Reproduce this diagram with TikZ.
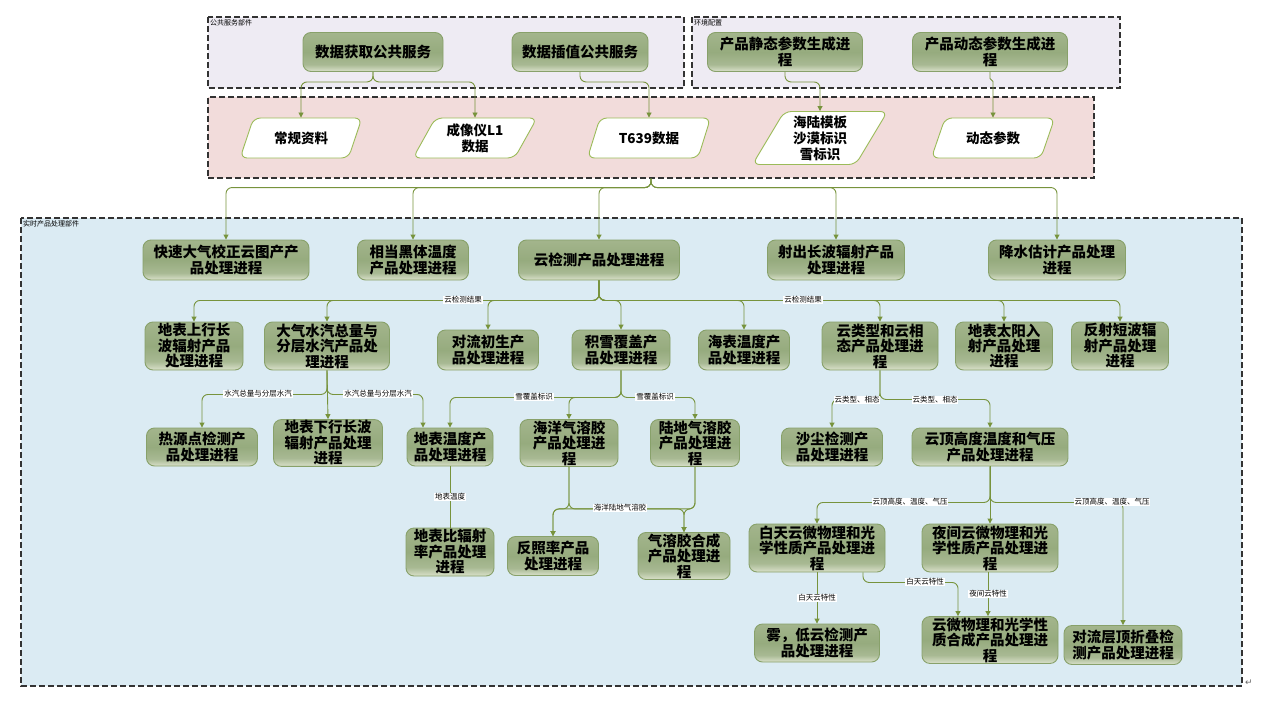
\documentclass[tikz,border=0pt]{standalone}
\usepackage{fontspec}
\setmainfont{Noto Sans CJK SC}
\newfontfamily\symfont{DejaVu Sans}
\usetikzlibrary{shapes.geometric,arrows.meta,backgrounds}
\definecolor{lav}{HTML}{EEEBF3}
\definecolor{pinkbg}{HTML}{F2DCDB}
\definecolor{bluebg}{HTML}{DBEBF3}
\definecolor{lnk}{HTML}{77933C}
\definecolor{nbord}{HTML}{88A16A}
\definecolor{ntop}{HTML}{A3B58C}
\definecolor{nmid}{HTML}{96AB7E}
\definecolor{nlow}{HTML}{A8B993}
\definecolor{nbot}{HTML}{DAE1CB}
\definecolor{pbord}{HTML}{9BBB59}
\pgfdeclareverticalshading{nodeshade}{100bp}{color(0bp)=(nbot); color(25bp)=(nbot); color(34bp)=(nlow); color(50bp)=(nmid); color(75bp)=(ntop); color(100bp)=(ntop)}
\tikzset{
  frame/.style={draw=black!80, dash pattern=on 6pt off 3pt, line width=1.1pt},
  framelab/.style={anchor=north west, inner sep=1pt, font=\fontsize{7}{8}\selectfont},
  proc/.style={draw=nbord, line width=0.9pt, rounded corners=8pt, shading=nodeshade, align=center, inner sep=1pt, font=\bfseries\fontsize{14.5}{15.5}\selectfont},
  para/.style={trapezium, trapezium left angle=62, trapezium right angle=118, trapezium stretches=true, draw=pbord, line width=0.9pt, fill=white, rounded corners=7pt, align=center, inner sep=1pt, font=\bfseries\fontsize{13.5}{16}\selectfont},
  conn/.style={draw=lnk, line width=0.9pt, rounded corners=6pt, -{Triangle[width=5pt,length=5pt]}},
  plain/.style={draw=lnk, line width=0.9pt, rounded corners=6pt},
  elab/.style={fill=white, inner sep=0.8pt, font=\fontsize{7.5}{8.5}\selectfont}
}
\begin{document}
\begin{tikzpicture}[x=1pt,y=-1pt]
\useasboundingbox (0,0) rectangle (1269,704);
% frames
\draw[frame, fill=lav] (208,17) rectangle (684,88);
\node[framelab] at (209,18) {公共服务部件};
\draw[frame, fill=lav] (692,17) rectangle (1120,88);
\node[framelab] at (693,18) {环境配置};
\node[frame, fill=pinkbg, minimum width=886pt, minimum height=81pt, inner sep=0pt] (pinkf) at (651,137.5) {};
\draw[frame, fill=bluebg] (21,218) rectangle (1242,686);
\node[framelab] at (22,219) {实时产品处理部件};
\node[inner sep=0pt, text=black!60, font=\symfont\fontsize{9}{9}\selectfont] (ret) at (1249,683) {↵};

% top nodes
\node[proc, minimum width=140pt, minimum height=39pt] (t1) at (373,52) {数据获取公共服务};
\node[proc, minimum width=136pt, minimum height=39pt] (t2) at (580,52) {数据插值公共服务};
\node[proc, minimum width=155pt, minimum height=39pt] (t3) at (785,52) {产品静态参数生成进\\程};
\node[proc, minimum width=155pt, minimum height=39pt] (t4) at (990,52) {产品动态参数生成进\\程};

% parallelograms
\node[para, minimum width=122pt, minimum height=40pt] (p1) at (301,138) {常规资料};
\node[para, minimum width=125pt, minimum height=40pt] (p2) at (475,138) {成像仪L1\\数据};
\node[para, minimum width=124pt, minimum height=40pt] (p3) at (649,138) {T639数据};
\node[para, minimum width=135pt, minimum height=53pt] (p4) at (820,138) {海陆模板\\沙漠标识\\雪标识};
\node[para, minimum width=124pt, minimum height=40pt] (p5) at (993,138) {动态参数};

% row 3
\node[proc, minimum width=166pt, minimum height=40pt] (r3a) at (226,260) {快速大气校正云图产产\\品处理进程};
\node[proc, minimum width=111pt, minimum height=40pt] (r3b) at (413,260) {相当黑体温度\\产品处理进程};
\node[proc, minimum width=161pt, minimum height=40pt] (r3c) at (599,260) {云检测产品处理进程};
\node[proc, minimum width=137pt, minimum height=40pt] (r3d) at (836,260) {射出长波辐射产品\\处理进程};
\node[proc, minimum width=137pt, minimum height=40pt] (r3e) at (1057,260) {降水估计产品处理\\进程};

% row 4
\node[proc, minimum width=98pt, minimum height=48pt] (r4a) at (194,346) {地表上行长\\波辐射产品\\处理进程};
\node[proc, minimum width=125pt, minimum height=48pt] (r4b) at (327,346) {大气水汽总量与\\分层水汽产品处\\理进程};
\node[proc, minimum width=101pt, minimum height=40pt] (r4c) at (488,350) {对流初生产\\品处理进程};
\node[proc, minimum width=98pt, minimum height=40pt] (r4d) at (621,350) {积雪覆盖产\\品处理进程};
\node[proc, minimum width=91pt, minimum height=40pt] (r4e) at (744,350) {海表温度产\\品处理进程};
\node[proc, minimum width=116pt, minimum height=48pt] (r4f) at (880,346) {云类型和云相\\态产品处理进\\程};
\node[proc, minimum width=97pt, minimum height=48pt] (r4g) at (1004,346) {地表太阳入\\射产品处理\\进程};
\node[proc, minimum width=97pt, minimum height=48pt] (r4h) at (1120,346) {反射短波辐\\射产品处理\\进程};

% row 5
\node[proc, minimum width=111pt, minimum height=38pt] (r5a) at (202,447) {热源点检测产\\品处理进程};
\node[proc, minimum width=109pt, minimum height=46pt] (r5b) at (328,443) {地表下行长波\\辐射产品处理\\进程};
\node[proc, minimum width=86pt, minimum height=38pt] (r5c) at (450,447) {地表温度产\\品处理进程};
\node[proc, minimum width=98pt, minimum height=46pt] (r5d) at (569,443) {海洋气溶胶\\产品处理进\\程};
\node[proc, minimum width=89pt, minimum height=46pt] (r5e) at (695,443) {陆地气溶胶\\产品处理进\\程};
\node[proc, minimum width=101pt, minimum height=38pt] (r5f) at (832,447) {沙尘检测产\\品处理进程};
\node[proc, minimum width=156pt, minimum height=38pt] (r5g) at (990,447) {云顶高度温度和气压\\产品处理进程};

% row 6
\node[proc, minimum width=88pt, minimum height=48pt] (r6a) at (450,552) {地表比辐射\\率产品处理\\进程};
\node[proc, minimum width=91pt, minimum height=39pt] (r6b) at (553,556) {反照率产品\\处理进程};
\node[proc, minimum width=92pt, minimum height=39pt] (r6c) at (684,556) {气溶胶合成\\产品处理进\\程};
\node[proc, minimum width=136pt, minimum height=48pt] (r6d) at (817,548) {白天云微物理和光\\学性质产品处理进\\程};
\node[proc, minimum width=136pt, minimum height=48pt] (r6e) at (990,548) {夜间云微物理和光\\学性质产品处理进\\程};

% row 7
\node[proc, minimum width=125pt, minimum height=38pt] (r7a) at (817,643) {雾，低云检测产\\品处理进程};
\node[proc, minimum width=136pt, minimum height=46pt] (r7b) at (990,640) {云微物理和光学性\\质合成产品处理进\\程};
\node[proc, minimum width=118pt, minimum height=39pt] (r7c) at (1123,645) {对流层顶折叠检\\测产品处理进程};

% connectors top
\draw[conn] (t1.south) -- ++(0,10) -| (p1.north);
\draw[conn] (t1.south) -- ++(0,10) -| (p2.north);
\draw[conn] (t2.south) -- ++(0,10) -| (p3.north);
\draw[conn] (t3.south) -- ++(0,10) -| (p4.north);
\draw[conn, rounded corners=1.5pt] (t4.south) -- ++(0,8) -| (p5.north);

% pink frame to row 3
\foreach \n in {r3a,r3b,r3c,r3d,r3e}{
  \draw[conn] (pinkf.south) -- ++(0,9) -| (\n.north);
}

% cloud detection to row 4
\foreach \n in {r4a,r4b,r4c,r4d,r4e,r4f,r4g,r4h}{
  \draw[conn] (r3c.south) -- ++(0,20) -| (\n.north);
}
\node[elab] (l1) at (463,300) {云检测结果};
\node[elab] (l2) at (803,300) {云检测结果};

% water vapour
\draw[conn] (r4b.south) -- ++(0,24) -| (r5a.north);
\draw[conn] (r4b.south) -- (r5b.north);
\draw[conn] (r4b.south) -- ++(0,24) -| ([xshift=-27pt]r5c.north);
\node[elab] (l3) at (258,394) {水汽总量与分层水汽};
\node[elab] (l4) at (378,394) {水汽总量与分层水汽};

% snow cover
\draw[conn] (r4d.south) -- ++(0,27) -| (r5c.north);
\draw[conn] (r4d.south) -- ++(0,27) -| (r5d.north);
\draw[conn] (r4d.south) -- ++(0,27) -| (r5e.north);
\node[elab] (l5) at (534,397) {雪覆盖标识};
\node[elab] (l6) at (655,397) {雪覆盖标识};

% land surface temperature
\draw[plain] (r5c.south) -- (r6a.north);
\node[elab] (l7) at (450,497) {地表温度};

% aerosol
\draw[conn] (r5d.south) -- ++(0,42) -| (r6b.north);
\draw[conn] (r5d.south) -- ++(0,42) -| (r6c.north);
\draw[conn] (r5e.south) -- ++(0,42) -| (r6c.north);
\draw[conn] (r5e.south) -- ++(0,42) -| (r6b.north);
\node[elab] (l8) at (620,508) {海洋陆地气溶胶};

% cloud type
\draw[conn] (r4f.south) -- ++(0,29) -| (r5f.north);
\draw[conn] (r4f.south) -- ++(0,29) -| (r5g.north);
\node[elab] (l9) at (857,400) {云类型、相态};
\node[elab] (l10) at (935,400) {云类型、相态};

% cloud top
\draw[conn] (r5g.south) -- ++(0,36) -| (r6d.north);
\draw[conn] (r5g.south) -- (r6e.north);
\draw[conn] (r5g.south) -- ++(0,36) -| (r7c.north);
\node[elab] (l11) at (910,502) {云顶高度、温度、气压};
\node[elab] (l12) at (1112,502) {云顶高度、温度、气压};

% day / night
\draw[conn] (r6d.south) -- (r7a.north);
\node[elab] (l13) at (817,598) {白天云特性};
\draw[conn] ([xshift=46pt]r6d.south) -- ++(0,10) -| ([xshift=-32pt]r7b.north);
\node[elab] (l14) at (925,582) {白天云特性};
\draw[conn] ([xshift=-2pt]r6e.south) -- ([xshift=-2pt]r7b.north);
\node[elab] (l15) at (988,594) {夜间云特性};
\end{tikzpicture}
\end{document}
